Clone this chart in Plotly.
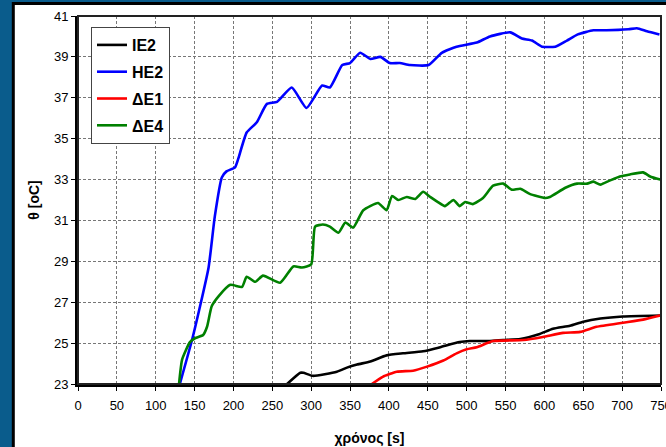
import plotly.graph_objects as go

# ---- data ----
ie2_t = [269, 286, 290, 302, 333, 346, 359, 376, 397, 418, 444, 466, 491, 504, 530, 547, 569, 594, 611, 633, 650, 672, 701, 749]
ie2_v = [23.0, 23.55, 23.55, 23.4, 23.6, 23.8, 23.95, 24.1, 24.4, 24.5, 24.6, 24.8, 25.05, 25.1, 25.1, 25.15, 25.2, 25.45, 25.7, 25.85, 26.05, 26.2, 26.3, 26.35]

he2_t = [131, 147, 157, 168, 176, 185, 191, 202, 206, 217, 230, 243, 256, 275, 294, 314, 324, 340, 350, 363, 376, 389, 401, 414, 427, 451, 468, 487, 513, 530, 556, 571, 584, 597, 614, 629, 643, 663, 680, 708, 719, 732, 748]
he2_v = [23.0, 25.2, 26.8, 28.7, 31.2, 33.1, 33.4, 33.6, 34.0, 35.3, 35.8, 36.7, 36.8, 37.5, 36.5, 37.6, 37.5, 38.6, 38.7, 39.2, 38.9, 39.0, 38.7, 38.7, 38.6, 38.6, 39.2, 39.5, 39.7, 40.0, 40.2, 39.9, 39.8, 39.5, 39.5, 39.8, 40.1, 40.3, 40.3, 40.35, 40.4, 40.25, 40.1]

de1_t = [378, 392, 410, 431, 449, 470, 487, 500, 513, 534, 573, 598, 624, 646, 667, 701, 727, 749]
de1_v = [23.0, 23.35, 23.6, 23.65, 23.85, 24.15, 24.5, 24.7, 24.8, 25.1, 25.15, 25.3, 25.5, 25.55, 25.8, 26.0, 26.15, 26.35]

de4_t = [130, 134, 144, 151, 161, 166, 172, 181, 196, 211, 217, 228, 238, 260, 277, 288, 300, 305, 315, 324, 335, 344, 354, 367, 386, 397, 404, 412, 423, 434, 444, 453, 463, 472, 483, 491, 498, 508, 521, 534, 547, 558, 569, 581, 601, 607, 627, 642, 655, 663, 672, 684, 697, 710, 727, 736, 749]
de4_v = [23.0, 24.2, 25.05, 25.25, 25.4, 25.8, 26.8, 27.3, 27.85, 27.75, 28.25, 28.0, 28.3, 27.95, 28.75, 28.7, 28.85, 30.7, 30.8, 30.7, 30.4, 30.9, 30.65, 31.5, 31.85, 31.5, 32.2, 32.0, 32.15, 32.05, 32.4, 32.15, 31.9, 31.7, 32.0, 31.7, 31.9, 31.8, 32.1, 32.7, 32.8, 32.5, 32.55, 32.3, 32.1, 32.15, 32.6, 32.8, 32.8, 32.9, 32.75, 32.95, 33.15, 33.25, 33.35, 33.15, 33.0]

x_ticks = list(range(0, 751, 50))
y_ticks = list(range(23, 42, 2))

series = [
    ("IE2", ie2_t, ie2_v, "#000000"),
    ("HE2", he2_t, he2_v, "#0000ff"),
    ("ΔE1", de1_t, de1_v, "#ff0000"),
    ("ΔE4", de4_t, de4_v, "#008000"),
]

W, H = 666, 447
L, R, T, B = 78, 5, 16, 63
pw, ph = W - L - R, H - T - B

def px_x(p):
    return (p - L) / pw

def px_y(p):
    return (H - B - p) / ph

fig = go.Figure()
for i, (name, t, v, c) in enumerate(series):
    fig.add_trace(go.Scatter(
        x=t, y=v, name=name, mode="lines",
        line=dict(color=c, width=2.6, shape="spline", smoothing=0.5),
        legendgroup=str(i), cliponaxis=True,
    ))

FONT = "Liberation Sans, Arial, sans-serif"

fig.update_layout(
    width=W, height=H,
    margin=dict(l=L, r=R, t=T, b=B, pad=0, autoexpand=False),
    paper_bgcolor="#0a5c8c",
    plot_bgcolor="white",
    font=dict(family=FONT, size=13, color="black"),
    showlegend=True,
    legend=dict(
        x=px_x(91), y=px_y(27), xanchor="left", yanchor="top",
        bgcolor="white", bordercolor="#444444", borderwidth=1,
        font=dict(family=FONT, size=16, color="black", weight="bold"),
        traceorder="grouped", tracegroupgap=3,
    ),
    xaxis=dict(
        range=[0, 750], tickvals=x_ticks, ticktext=[str(x) for x in x_ticks],
        showgrid=True, gridcolor="#777777", griddash="3px,2px", gridwidth=1,
        showline=True, linecolor="black", linewidth=3,
        ticks="outside", ticklen=4, tickcolor="black", tickwidth=1,
        zeroline=False, automargin=False, ticklabeloverflow="allow",
        ticklabelstandoff=3,
        title=dict(text="<b>χρόνος [s]</b>", font=dict(family=FONT, size=14), standoff=22),
        tickfont=dict(family=FONT, size=13),
    ),
    yaxis=dict(
        range=[23, 41], tickvals=y_ticks, ticktext=[str(y) for y in y_ticks],
        showgrid=True, gridcolor="#777777", griddash="3px,2px", gridwidth=1,
        showline=True, linecolor="black", linewidth=3,
        ticks="outside", ticklen=4, tickcolor="black", tickwidth=1,
        zeroline=False, automargin=False,
        title=dict(text="<b>θ [oC]</b>", font=dict(family=FONT, size=14), standoff=12),
        tickfont=dict(family=FONT, size=13),
    ),
    shapes=[
        dict(type="rect", xref="paper", yref="paper", layer="below",
             x0=px_x(13.3), x1=px_x(700), y0=px_y(3.5), y1=px_y(480),
             fillcolor="white", line=dict(color="black", width=3)),
        dict(type="rect", xref="paper", yref="paper", layer="above",
             x0=0, x1=1, y0=0, y1=1,
             fillcolor="rgba(0,0,0,0)", line=dict(color="#222222", width=2)),
    ],
)

fig.write_html(
    "out.html",
    config={"displayModeBar": False},
    post_script="document.body.style.margin='0';document.body.style.overflow='hidden';",
)
